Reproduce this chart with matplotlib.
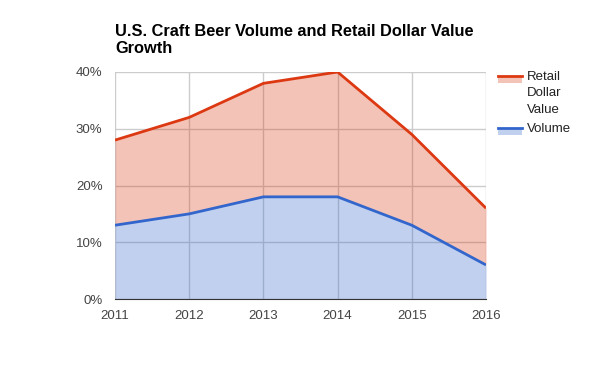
import matplotlib.pyplot as plt
from matplotlib.lines import Line2D
from matplotlib.patches import Rectangle

plt.rcParams['font.family'] = ['Liberation Sans', 'DejaVu Sans']

annees = [2011, 2012, 2013, 2014, 2015, 2016]
valeur_detail = [28, 32, 38, 40, 29, 16]
volume = [13, 15, 18, 18, 13, 6]
ticks_y = [0, 10, 20, 30, 40]

rouge = '#dc3912'
bleu = '#3366cc'

fig = plt.figure(figsize=(6, 3.71), dpi=100)
ax = fig.add_axes([115 / 600, 1 - 299 / 371, 371 / 600, 227 / 371])

# aires non empilees : le rouge ne recouvre pas le bleu
ax.fill_between(annees, valeur_detail, volume, color=rouge, alpha=0.3, lw=0, zorder=2)
ax.fill_between(annees, volume, 0, color=bleu, alpha=0.3, lw=0, zorder=2)
ax.plot(annees, valeur_detail, color=rouge, lw=2, zorder=3, solid_capstyle='butt')
ax.plot(annees, volume, color=bleu, lw=2, zorder=3, solid_capstyle='butt')

ax.set_xlim(2011, 2016)
ax.set_ylim(0, 40)
ax.set_xticks(annees)
ax.set_yticks(ticks_y)
ax.set_yticklabels([f'{t}%' for t in ticks_y])
ax.grid(True, color='#cccccc', lw=1, zorder=1)
ax.set_axisbelow(True)
ax.tick_params(length=0, labelsize=9.5, colors='#444444')
ax.tick_params(axis='y', pad=9)
ax.tick_params(axis='x', pad=8)
for c in ['top', 'right', 'left']:
    ax.spines[c].set_visible(False)
ax.spines['bottom'].set_color('#333333')
ax.spines['bottom'].set_zorder(4)

fig.text(115 / 600, 1 - 24 / 371,
         'U.S. Craft Beer Volume and Retail Dollar Value\nGrowth',
         fontsize=11.8, fontweight='bold', va='top', ha='left', linespacing=1.15)

# legende
def entree(y_px, couleur, texte):
    x0, x1 = 498 / 600, 522 / 600
    fig.add_artist(Rectangle((x0, 1 - (y_px + 7) / 371), x1 - x0, 7 / 371,
                             transform=fig.transFigure, color=couleur, alpha=0.3, lw=0))
    fig.add_artist(Line2D([x0, x1], [1 - y_px / 371] * 2, transform=fig.transFigure,
                          color=couleur, lw=2))
    fig.text(527 / 600, 1 - (y_px - 5) / 371, texte, fontsize=9.5, color='#222222',
             va='top', ha='left', linespacing=1.5)

entree(76, rouge, 'Retail\nDollar\nValue')
entree(128, bleu, 'Volume')

fig.savefig('out.png', dpi=100)
